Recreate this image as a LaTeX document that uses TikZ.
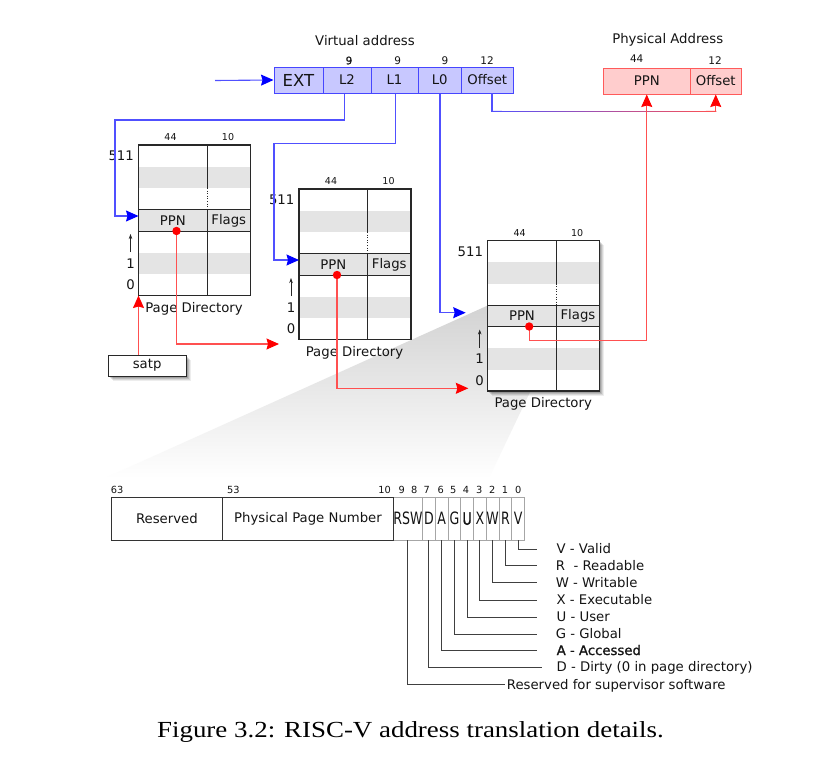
\documentclass[tikz,border=0pt]{standalone}
\usepackage{fontspec}
\setmainfont{DejaVu Sans}
\newfontfamily\capfont[FakeStretch=1.17]{Liberation Serif}
\newfontfamily\condfont[FakeStretch=0.74]{DejaVu Sans}
\newfontfamily\semib[FakeBold=1.2]{DejaVu Sans}
\newfontfamily\condsemib[FakeStretch=0.74,FakeBold=1.2]{DejaVu Sans}
\usetikzlibrary{arrows.meta,calc}
\definecolor{vfill}{RGB}{200,200,255}
\definecolor{vdraw}{RGB}{70,70,255}
\definecolor{bline}{RGB}{80,80,255}
\definecolor{pfill}{RGB}{255,205,205}
\definecolor{pdraw}{RGB}{255,90,90}
\definecolor{rline}{RGB}{255,80,80}
\definecolor{band}{RGB}{228,228,228}
\definecolor{boxline}{RGB}{40,40,40}
\tikzset{
 txt/.style={font=\fontsize{13.25}{15}\selectfont, inner sep=0pt, text=black!92},
 numsm/.style={font=\fontsize{9.5}{10}\selectfont, inner sep=0pt, text=black!92},
 numva/.style={font=\fontsize{10.5}{12}\selectfont, inner sep=0pt, text=black!92},
 numpte/.style={font=\fontsize{9.8}{11}\selectfont, inner sep=0pt, text=black!92},
 vcell/.style={txt, draw=vdraw, fill=vfill, line width=1pt, minimum height=26pt},
 pcell/.style={txt, draw=pdraw, fill=pfill, line width=1pt, minimum height=26pt},
 barrow/.style={draw=bline, line width=1.1pt, -{Stealth[length=12.5pt,width=11pt,inset=1.5pt,color=blue]}},
 rarrow/.style={draw=rline, line width=1.1pt, -{Stealth[length=12.5pt,width=11pt,inset=1.5pt,color=red]}},
 bigcell/.style={txt, draw=black!80, line width=1pt, minimum height=42.7pt, fill=white},
 bitcell/.style={txt, font=\condfont\fontsize{17}{19}\selectfont, draw=black!35, line width=0.8pt, minimum height=42.7pt, minimum width=12.75pt, fill=white},
 legline/.style={draw=black!75, line width=0.9pt},
 legtxt/.style={txt, anchor=base west},
}
% #1 name, #2 x, #3 y, #4 dot x
\newcommand\pagedirbox[4]{%
 \begin{scope}[shift={(#2,#3)}]
  \fill[white] (0,0) rectangle (112,150.5);
  \fill[band] (0,21.5) rectangle (112,43);
  \fill[band] (0,64.5) rectangle (112,86);
  \fill[band] (0,107.5) rectangle (112,129);
  \draw[boxline, line width=0.9pt] (0,64.5) -- (112,64.5) (0,86) -- (112,86);
  \draw[boxline, line width=0.9pt] (68.5,0) -- (68.5,43) (68.5,64.5) -- (68.5,150.5);
  \draw[boxline, line width=0.6pt, dotted] (68.5,43) -- (68.5,64.5);
  \draw[boxline, line width=1.4pt] (0,0) rectangle (112,150.5);
  \node[txt] (#1ppn) at (34.25,75.5) {PPN};
  \node[txt] (#1flags) at (90.25,75.5) {Flags};
  \node[numsm] (#1n44) at (32,-7.5) {44};
  \node[numsm] (#1n10) at (89.5,-7.5) {10};
  \node[txt, anchor=east] (#1top) at (-4.5,11) {511};
  \node[txt] (#1one) at (-8,118.5) {1};
  \node[txt] (#1zero) at (-8,140) {0};
  \coordinate (#1aa) at (-8,107);
  \coordinate (#1ab) at (-8,89);
  \draw[black!85, line width=0.6pt, -{Stealth[length=5pt,width=3.5pt]}] (#1aa) -- (#1ab);
  \node[txt] (#1lbl) at (55.5,163.5) {Page Directory};
  \coordinate (#1in) at (0,71);
  \coordinate (#1sw) at (0,150.5);
  \coordinate (#1dot) at (#4,86);
 \end{scope}}
\newcommand\softshadow[4]{%
 \foreach \d/\o in {4.5/0.07,3.5/0.09,2.5/0.12,1.5/0.14}{
  \fill[black, opacity=\o] (#1+\d,#2+\d) rectangle (#3+\d,#4+\d);}}
\begin{document}
\begin{tikzpicture}[x=1pt, y=-1pt]
\fill[white] (0,0) rectangle (818,768);
\useasboundingbox (0,0) rectangle (818,768);

% zoom wedge
\shade[top color=black!18, bottom color=white] (487.7,305.5) -- (574,300) -- (489,478) -- (105,478) -- cycle;

% virtual address
\node[txt] (vatitle) at (365,41) {Virtual address};
\node[vcell, minimum width=49pt, font=\fontsize{16.5}{18}\selectfont] (ext) at (298.5,80) {EXT};
\node[vcell, minimum width=48pt] (l2) at (347,80) {L2};
\node[vcell, minimum width=47pt] (l1) at (394.5,80) {L1};
\node[vcell, minimum width=43.5pt] (l0) at (439.75,80) {L0};
\node[vcell, minimum width=51.5pt] (voff) at (487.25,80) {Offset};
\node[numva, font=\semib\fontsize{10.5}{12}\selectfont] (n9a) at (349,60.5) {9};
\node[numva] (n9b) at (397.7,60.5) {9};
\node[numva] (n9c) at (445,60.5) {9};
\node[numva] (n12a) at (487,60.5) {12};
\coordinate (vin) at (215,80.5);
\draw[barrow] (vin) -- (ext.west);

% physical address
\node[txt] (patitle) at (667.7,40) {Physical Address};
\node[pcell, minimum width=86.5pt] (pppn) at (646.75,81) {PPN};
\node[pcell, minimum width=51.5pt] (poff) at (715.75,81) {Offset};
\node[numva] (n44p) at (636.7,58.3) {44};
\node[numva] (n12p) at (715,61) {12};

% page directories
\pagedirbox{pda}{138.5}{145}{38}
\pagedirbox{pdb}{299}{189}{38}
\softshadow{487.7}{240.5}{599.7}{391}
\pagedirbox{pdc}{487.7}{240.5}{41.5}

% satp
\softshadow{108.3}{355}{186}{376}
\node[txt, draw=boxline, fill=white, line width=1pt, minimum width=77.7pt, minimum height=21pt] (satp) at (147.15,365.5) {satp};

% blue connectors
\coordinate (b1) at (115,120);
\coordinate (b2) at (274,143.3);
\coordinate (pdcarr) at (465.7,312.7);
\draw[barrow] ([xshift=-2.7pt]l2.south) |- (b1) |- (pdain);
\draw[barrow] ([xshift=1.2pt]l1.south) |- (b2) |- (pdbin);
\draw[barrow] ([xshift=0.25pt]l0.south) |- (pdcarr);

% offset connector (blue to red)
\coordinate (ob) at (492,111.3);
\coordinate (oe) at (715.75,111.3);
\draw[bline, line width=1.1pt, line cap=rect] ([xshift=4.75pt]voff.south) -- (ob);
\foreach \i in {0,...,23}{
 \pgfmathsetmacro\pa{\i/24}\pgfmathsetmacro\pb{(\i+1)/24}\pgfmathsetmacro\pc{100*(\i+0.5)/24}
 \draw[draw=rline!\pc!bline, line width=1.1pt, line cap=rect] ($(ob)!\pa!(oe)$) -- ($(ob)!\pb!(oe)$);
}
\draw[rarrow] (oe) -- (poff.south);

% red connectors
\coordinate (r1) at (279,344);
\coordinate (r2) at (468.3,388.3);
\coordinate (r3y) at (0,340.7);
\draw[rarrow] (satp.north -| pdasw) -- (pdasw);
\draw[rarrow] (pdadot) |- (r1);
\draw[rarrow] (pdbdot) |- (r2);
\draw[rarrow] (pdcdot) -- (pdcdot |- r3y) -| (pppn.south);
\fill[red] (pdadot) circle (4.2pt);
\fill[red] (pdbdot) circle (4.2pt);
\fill[red] (pdcdot) circle (4.2pt);

% PTE bar
\node[bitcell, minimum width=29.2pt] (crsw) at (407.9,518.65) {RSW};
\node[bitcell] (cD) at (428.875,518.65) {D};
\node[bitcell] (cA) at (441.625,518.65) {A};
\node[bitcell] (cG) at (454.375,518.65) {G};
\node[bitcell, font=\condsemib\fontsize{17}{19}\selectfont] (cU) at (467.125,518.65) {U};
\node[bitcell] (cX) at (479.875,518.65) {X};
\node[bitcell] (cW) at (492.625,518.65) {W};
\node[bitcell] (cR) at (505.375,518.65) {R};
\node[bitcell] (cV) at (518.125,518.65) {V};
\node[bigcell, minimum width=111.7pt] (res) at (166.85,518.65) {Reserved};
\node[bigcell, minimum width=170.6pt] (ppnf) at (308,518.65) {Physical Page Number};

\node[numpte] (b63) at (117,490) {63};
\node[numpte] (b53) at (233.3,490) {53};
\node[numpte] (b10) at (384.5,490) {10};
\node[numpte] (b9) at (401.7,490) {9};
\node[numpte] (b8) at (414.3,490) {8};
\node[numpte] (b7) at (426.7,490) {7};
\node[numpte] (b6) at (440.7,490) {6};
\node[numpte] (b5) at (453.3,490) {5};
\node[numpte] (b4) at (466,490) {4};
\node[numpte] (b3) at (479.3,490) {3};
\node[numpte] (b2) at (492.3,490) {2};
\node[numpte] (b1n) at (505,490) {1};
\node[numpte] (b0) at (518.3,490) {0};

% legend
\coordinate (lV) at (536.7,549);
\coordinate (lR) at (536.7,565.5);
\coordinate (lW) at (536.7,582.5);
\coordinate (lX) at (536.7,600);
\coordinate (lU) at (536.7,617);
\coordinate (lG) at (536.7,634);
\coordinate (lA) at (536.7,650.5);
\coordinate (lD) at (541.7,667);
\coordinate (lS) at (505,684.5);
\draw[legline] (cV.south) |- (lV);
\draw[legline] (cR.south) |- (lR);
\draw[legline] (cW.south) |- (lW);
\draw[legline] (cX.south) |- (lX);
\draw[legline] (cU.south) |- (lU);
\draw[legline] (cG.south) |- (lG);
\draw[legline] (cA.south) |- (lA);
\draw[legline] (cD.south) |- (lD);
\draw[legline] (crsw.south) |- (lS);
\node[legtxt] (tV) at (556.5,553.5) {V - Valid};
\node[legtxt] (tR) at (555.7,570) {R\ \ - Readable};
\node[legtxt] (tW) at (555.7,587) {W - Writable};
\node[legtxt] (tX) at (556.5,604.5) {X - Executable};
\node[legtxt] (tU) at (556.5,621.5) {U - User};
\node[legtxt] (tG) at (555.7,638.5) {G - Global};
\node[legtxt, font=\semib\fontsize{13.25}{15}\selectfont] (tA) at (556.5,655) {A - Accessed};
\node[legtxt] (tD) at (556.5,671.5) {D - Dirty (0 in page directory)};
\node[legtxt] (tS) at (506.7,689) {Reserved for supervisor software};

% caption
\node[font=\capfont\fontsize{23}{27}\selectfont, inner sep=0pt] (cap) at (410.5,732) {Figure 3.2: RISC-V address translation details.};
\end{tikzpicture}
\end{document}
